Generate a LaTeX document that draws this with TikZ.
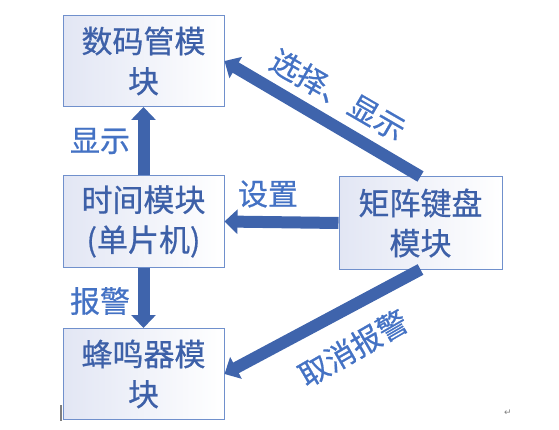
\documentclass[tikz,border=0pt]{standalone}
\usepackage{fontspec}
\usetikzlibrary{arrows.meta}
\newfontfamily\cjk{Noto Sans CJK SC}[FakeBold=0.6]
\newfontfamily\symfont{DejaVu Sans}
\definecolor{arrowblue}{HTML}{3F64AC}
\definecolor{textblue}{HTML}{4472C4}
\definecolor{boxtext}{HTML}{3D60A8}
\definecolor{boxline}{HTML}{7090CC}
\definecolor{boxfill}{HTML}{E2E6F4}

\begin{document}
\begin{tikzpicture}[x=1pt, y=-1pt,
    box/.style={draw=boxline, line width=1pt, left color=boxfill, right color=white,
        minimum width=161pt, minimum height=91pt, inner sep=0pt, align=center,
        text=boxtext, font=\cjk\fontsize{31}{40}\selectfont},
    lab/.style={text=textblue, inner sep=0pt, font=\cjk\fontsize{30}{35}\selectfont},
    fat/.style={-{Triangle[width=24pt, length=13pt]}, line width=12pt, color=arrowblue}]
    \useasboundingbox (0,0) rectangle (559,430);
    \node (shu) at (143.5,61) [box] {数码管模\\块};
    \node (time) at (143.5,221.5) [box] {时间模块\\(单片机)};
    \node (buzz) at (143.5,374) [box] {蜂鸣器模\\块};
    \node (key) at (420.5,223) [box, minimum width=163pt, minimum height=92pt] {矩阵键盘\\模块};
    \draw [fat] (time.north) -- (shu.south);
    \draw [fat] (time.south) -- (buzz.north);
    \draw [fat] (key.west) -- (time.east);
    \draw [fat] (key.north) -- (shu.east);
    \draw [fat] (key.south) -- (buzz.east);
    \node (xian) at (100,141) [lab] {显示};
    \node (she) at (268,194) [lab] {设置};
    \node (bao) at (100,301) [lab] {报警};
    \node (xuan) at (338,95) [lab, rotate=-30] {选择、显示};
    \node (qu) at (353,348) [lab, rotate=30] {取消报警};
    % cursor and paragraph mark
    \draw [gray, line width=1.2pt] (61,405) -- (61,421);
    \node (ret) at (508,413) [text=gray, font=\symfont\fontsize{9}{9}\selectfont] {↵};
\end{tikzpicture}
\end{document}
